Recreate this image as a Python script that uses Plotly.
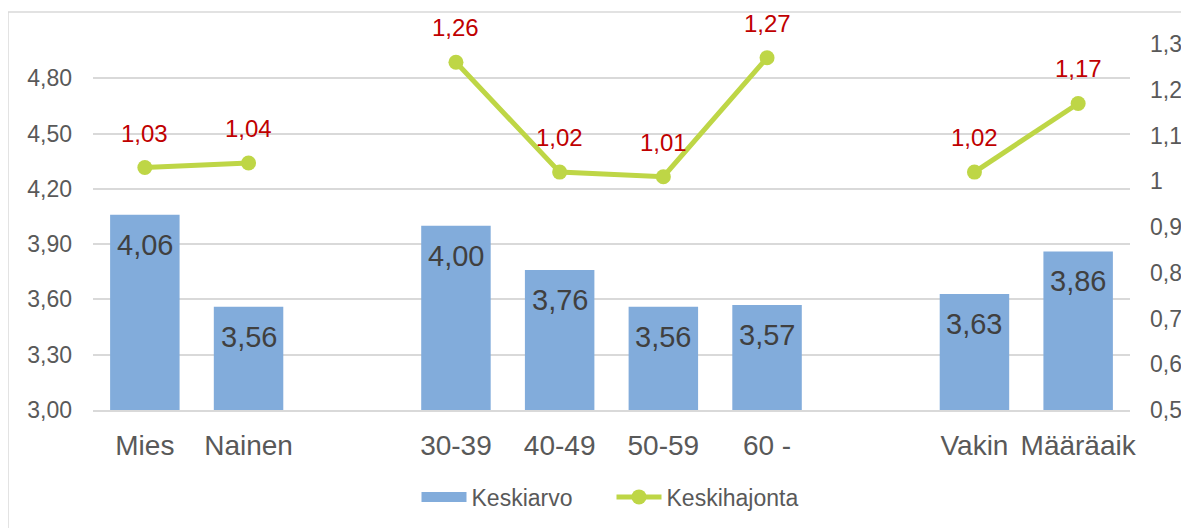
import plotly.graph_objects as go

# categories (blank entries are the gaps between groups)
categories = ["Mies", "Nainen", " ", "30-39", "40-49", "50-59", "60 -", "  ", "Vakin", "Määräaik"]
keskiarvo = [4.06, 3.56, None, 4.00, 3.76, 3.56, 3.57, None, 3.63, 3.86]
keskihajonta = [1.03, 1.04, None, 1.26, 1.02, 1.01, 1.27, None, 1.02, 1.17]

left_ticks = [3.00, 3.30, 3.60, 3.90, 4.20, 4.50, 4.80]
right_ticks = [0.5, 0.6, 0.7, 0.8, 0.9, 1.0, 1.1, 1.2, 1.3]

BAR = "#82ACDB"
LINE = "#BED646"
RED = "#C00000"
GREY = "#595959"


def fi(v):
    return f"{v:.2f}".replace(".", ",")


fig = go.Figure()

fig.add_trace(go.Bar(
    x=categories, y=keskiarvo, name="Keskiarvo",
    marker=dict(color=BAR, line=dict(width=0)),
    showlegend=False, yaxis="y",
))
# legend entry drawn as a wide swatch like the original
fig.add_trace(go.Scatter(
    x=[None], y=[None], name="Keskiarvo", mode="lines",
    line=dict(color=BAR, width=12), yaxis="y",
))

fig.add_trace(go.Scatter(
    x=categories, y=keskihajonta, name="Keskihajonta",
    mode="lines+markers",
    line=dict(color=LINE, width=5),
    marker=dict(color=LINE, size=15),
    connectgaps=False,
    yaxis="y2",
))

annotations = []
for c, v in zip(categories, keskiarvo):
    if v is None:
        continue
    annotations.append(dict(
        x=c, y=v, xref="x", yref="y", text=fi(v), showarrow=False,
        yanchor="top", yshift=-12, font=dict(size=29, color="#404040"),
    ))
for c, v in zip(categories, keskihajonta):
    if v is None:
        continue
    annotations.append(dict(
        x=c, y=v, xref="x", yref="y2", text=fi(v), showarrow=False,
        yanchor="bottom", yshift=19, font=dict(size=24, color=RED),
    ))

# page body puts the figure 8px in from the top-left corner
fig.update_layout(
    width=1181, height=520,
    margin=dict(l=85, r=59, t=12, b=118, autoexpand=False),
    paper_bgcolor="white", plot_bgcolor="white",
    separators=", ",
    font=dict(family="Liberation Sans, Arial, sans-serif", color=GREY),
    bargap=0.33,
    annotations=annotations,
    showlegend=True,
    legend=dict(
        orientation="h", x=0.5, xanchor="center", y=-0.223, yanchor="middle",
        font=dict(size=23, color=GREY), itemwidth=45,
        entrywidth=135,
    ),
    xaxis=dict(
        type="category", categoryorder="array", categoryarray=categories,
        range=[-0.5, 9.5], automargin=False,
        showgrid=False, showline=True, linecolor="#D9D9D9", linewidth=1.5,
        ticks="", tickfont=dict(size=28, color=GREY),
        ticklabelstandoff=10,
    ),
    yaxis=dict(
        range=[3.0, 5.116], tickvals=left_ticks, tickformat=".2f",
        automargin=False,
        showgrid=True, gridcolor="#D9D9D9", gridwidth=1.5,
        zeroline=False, showline=False, ticks="",
        tickfont=dict(size=23, color=GREY), ticklabelstandoff=20,
    ),
    yaxis2=dict(
        overlaying="y", side="right", range=[0.5, 1.3525],
        automargin=False,
        tickvals=right_ticks, showgrid=False, zeroline=False, ticks="",
        tickfont=dict(size=23, color=GREY), ticklabelstandoff=19,
    ),
    shapes=[dict(
        type="rect", xref="paper", yref="paper",
        x0=-0.082, x1=1.07, y0=-0.32, y1=1.0205,
        line=dict(color="#D9D9D9", width=1.5), layer="below",
    )],
)

fig.write_html("out.html")
